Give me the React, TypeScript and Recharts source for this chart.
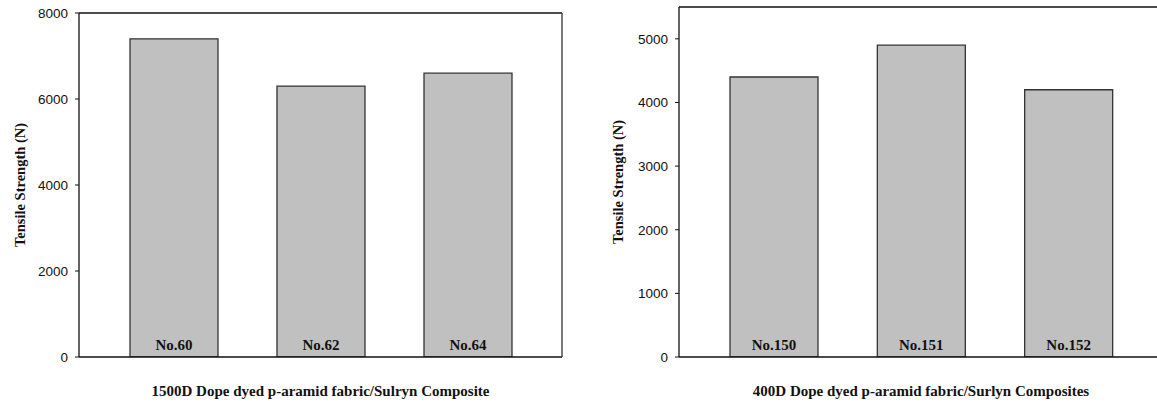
import React from 'react';
import { BarChart, Bar, XAxis, YAxis, LabelList } from 'recharts';

const leftCategories = ['No.60', 'No.62', 'No.64'];
const leftValues = [7400, 6300, 6600];
const leftTicks = [0, 2000, 4000, 6000, 8000];

const rightCategories = ['No.150', 'No.151', 'No.152'];
const rightValues = [4400, 4900, 4200];
const rightTicks = [0, 1000, 2000, 3000, 4000, 5000];

const leftTitle = '1500D Dope dyed p-aramid fabric/Sulryn Composite';
const rightTitle = '400D Dope dyed p-aramid fabric/Surlyn Composites';
const yTitle = 'Tensile Strength (N)';

const serif = '"Liberation Serif", "Times New Roman", serif';
const sans = '"Liberation Sans", Arial, sans-serif';

const leftData = leftCategories.map((name, i) => ({ name, value: leftValues[i] }));
const rightData = rightCategories.map((name, i) => ({ name, value: rightValues[i] }));

const BarName = (props: any) => {
  const { x, y, width, height, value } = props;
  return (
    <text
      x={x + width / 2}
      y={y + height - 7}
      textAnchor="middle"
      fontFamily={serif}
      fontWeight="bold"
      fontSize={15}
      fill="#111"
    >
      {value}
    </text>
  );
};

const makeYLabel = (dx: number) => (props: any) => {
  const vb = props.viewBox;
  const cx = vb.x + dx;
  const cy = vb.y + vb.height / 2;
  return (
    <text
      x={cx}
      y={cy}
      transform={`rotate(-90 ${cx} ${cy})`}
      textAnchor="middle"
      dominantBaseline="central"
      fontFamily={serif}
      fontWeight="bold"
      fontSize={14.5}
      fill="#111"
    >
      {yTitle}
    </text>
  );
};

const makeXLabel = (text: string) => (props: any) => {
  const vb = props.viewBox;
  return (
    <text
      x={vb.x + vb.width / 2}
      y={vb.y + 34}
      textAnchor="middle"
      dominantBaseline="central"
      fontFamily={serif}
      fontWeight="bold"
      fontSize={15}
      fill="#111"
    >
      {text}
    </text>
  );
};

const tickStyle = { fontFamily: sans, fontSize: 13.5, fill: '#111' };

function Panel(props: {
  data: any[];
  ticks: number[];
  domain: [number, number];
  width: number;
  top: number;
  right: number;
  yWidth: number;
  labelDx: number;
  title: string;
}) {
  const { data, ticks, domain, width, top, right, yWidth, labelDx, title } = props;
  return (
    <BarChart
      width={width}
      height={403}
      data={data}
      margin={{ top: top - 1, right: right - 1, bottom: 0, left: 0 }}
    >
      <XAxis
        dataKey="name"
        xAxisId="main"
        tick={false}
        tickLine={false}
        axisLine={{ stroke: '#111', strokeWidth: 1.3 }}
        padding={{ left: 21, right: 21 }}
        height={46}
        label={makeXLabel(title)}
      />
      <XAxis
        xAxisId="top"
        orientation="top"
        dataKey="name"
        tick={false}
        tickLine={false}
        height={1}
        axisLine={{ stroke: '#111', strokeWidth: 1.3 }}
      />
      <YAxis
        yAxisId="main"
        domain={domain}
        ticks={ticks}
        width={yWidth}
        tick={tickStyle}
        tickSize={4}
        tickMargin={7}
        tickLine={{ stroke: '#111' }}
        axisLine={{ stroke: '#111', strokeWidth: 1.3 }}
        interval={0}
        allowDataOverflow
        label={makeYLabel(labelDx)}
      />
      <YAxis
        yAxisId="right"
        orientation="right"
        domain={domain}
        width={1}
        tick={false}
        tickLine={false}
        axisLine={{ stroke: '#333', strokeWidth: 1.3 }}
      />
      <Bar
        dataKey="value"
        xAxisId="main"
        yAxisId="main"
        barSize={88}
        fill="#c0c0c0"
        stroke="#333"
        strokeWidth={1.3}
        isAnimationActive={false}
      >
        <LabelList dataKey="name" content={BarName} />
      </Bar>
    </BarChart>
  );
}

export default function App() {
  return (
    <div
      style={{
        position: 'absolute',
        left: 0,
        top: 0,
        width: 1157,
        height: 403,
        overflow: 'hidden',
        background: '#fff',
      }}
    >
      <div style={{ position: 'absolute', left: 0, top: 0 }}>
        <Panel
          data={leftData}
          ticks={leftTicks}
          domain={[0, 8000]}
          width={580}
          top={13}
          right={18}
          yWidth={79}
          labelDx={20}
          title={leftTitle}
        />
      </div>
      <div style={{ position: 'absolute', left: 580, top: 0 }}>
        <Panel
          data={rightData}
          ticks={rightTicks}
          domain={[0, 5500]}
          width={600}
          top={7}
          right={17}
          yWidth={99}
          labelDx={38}
          title={rightTitle}
        />
      </div>
    </div>
  );
}
